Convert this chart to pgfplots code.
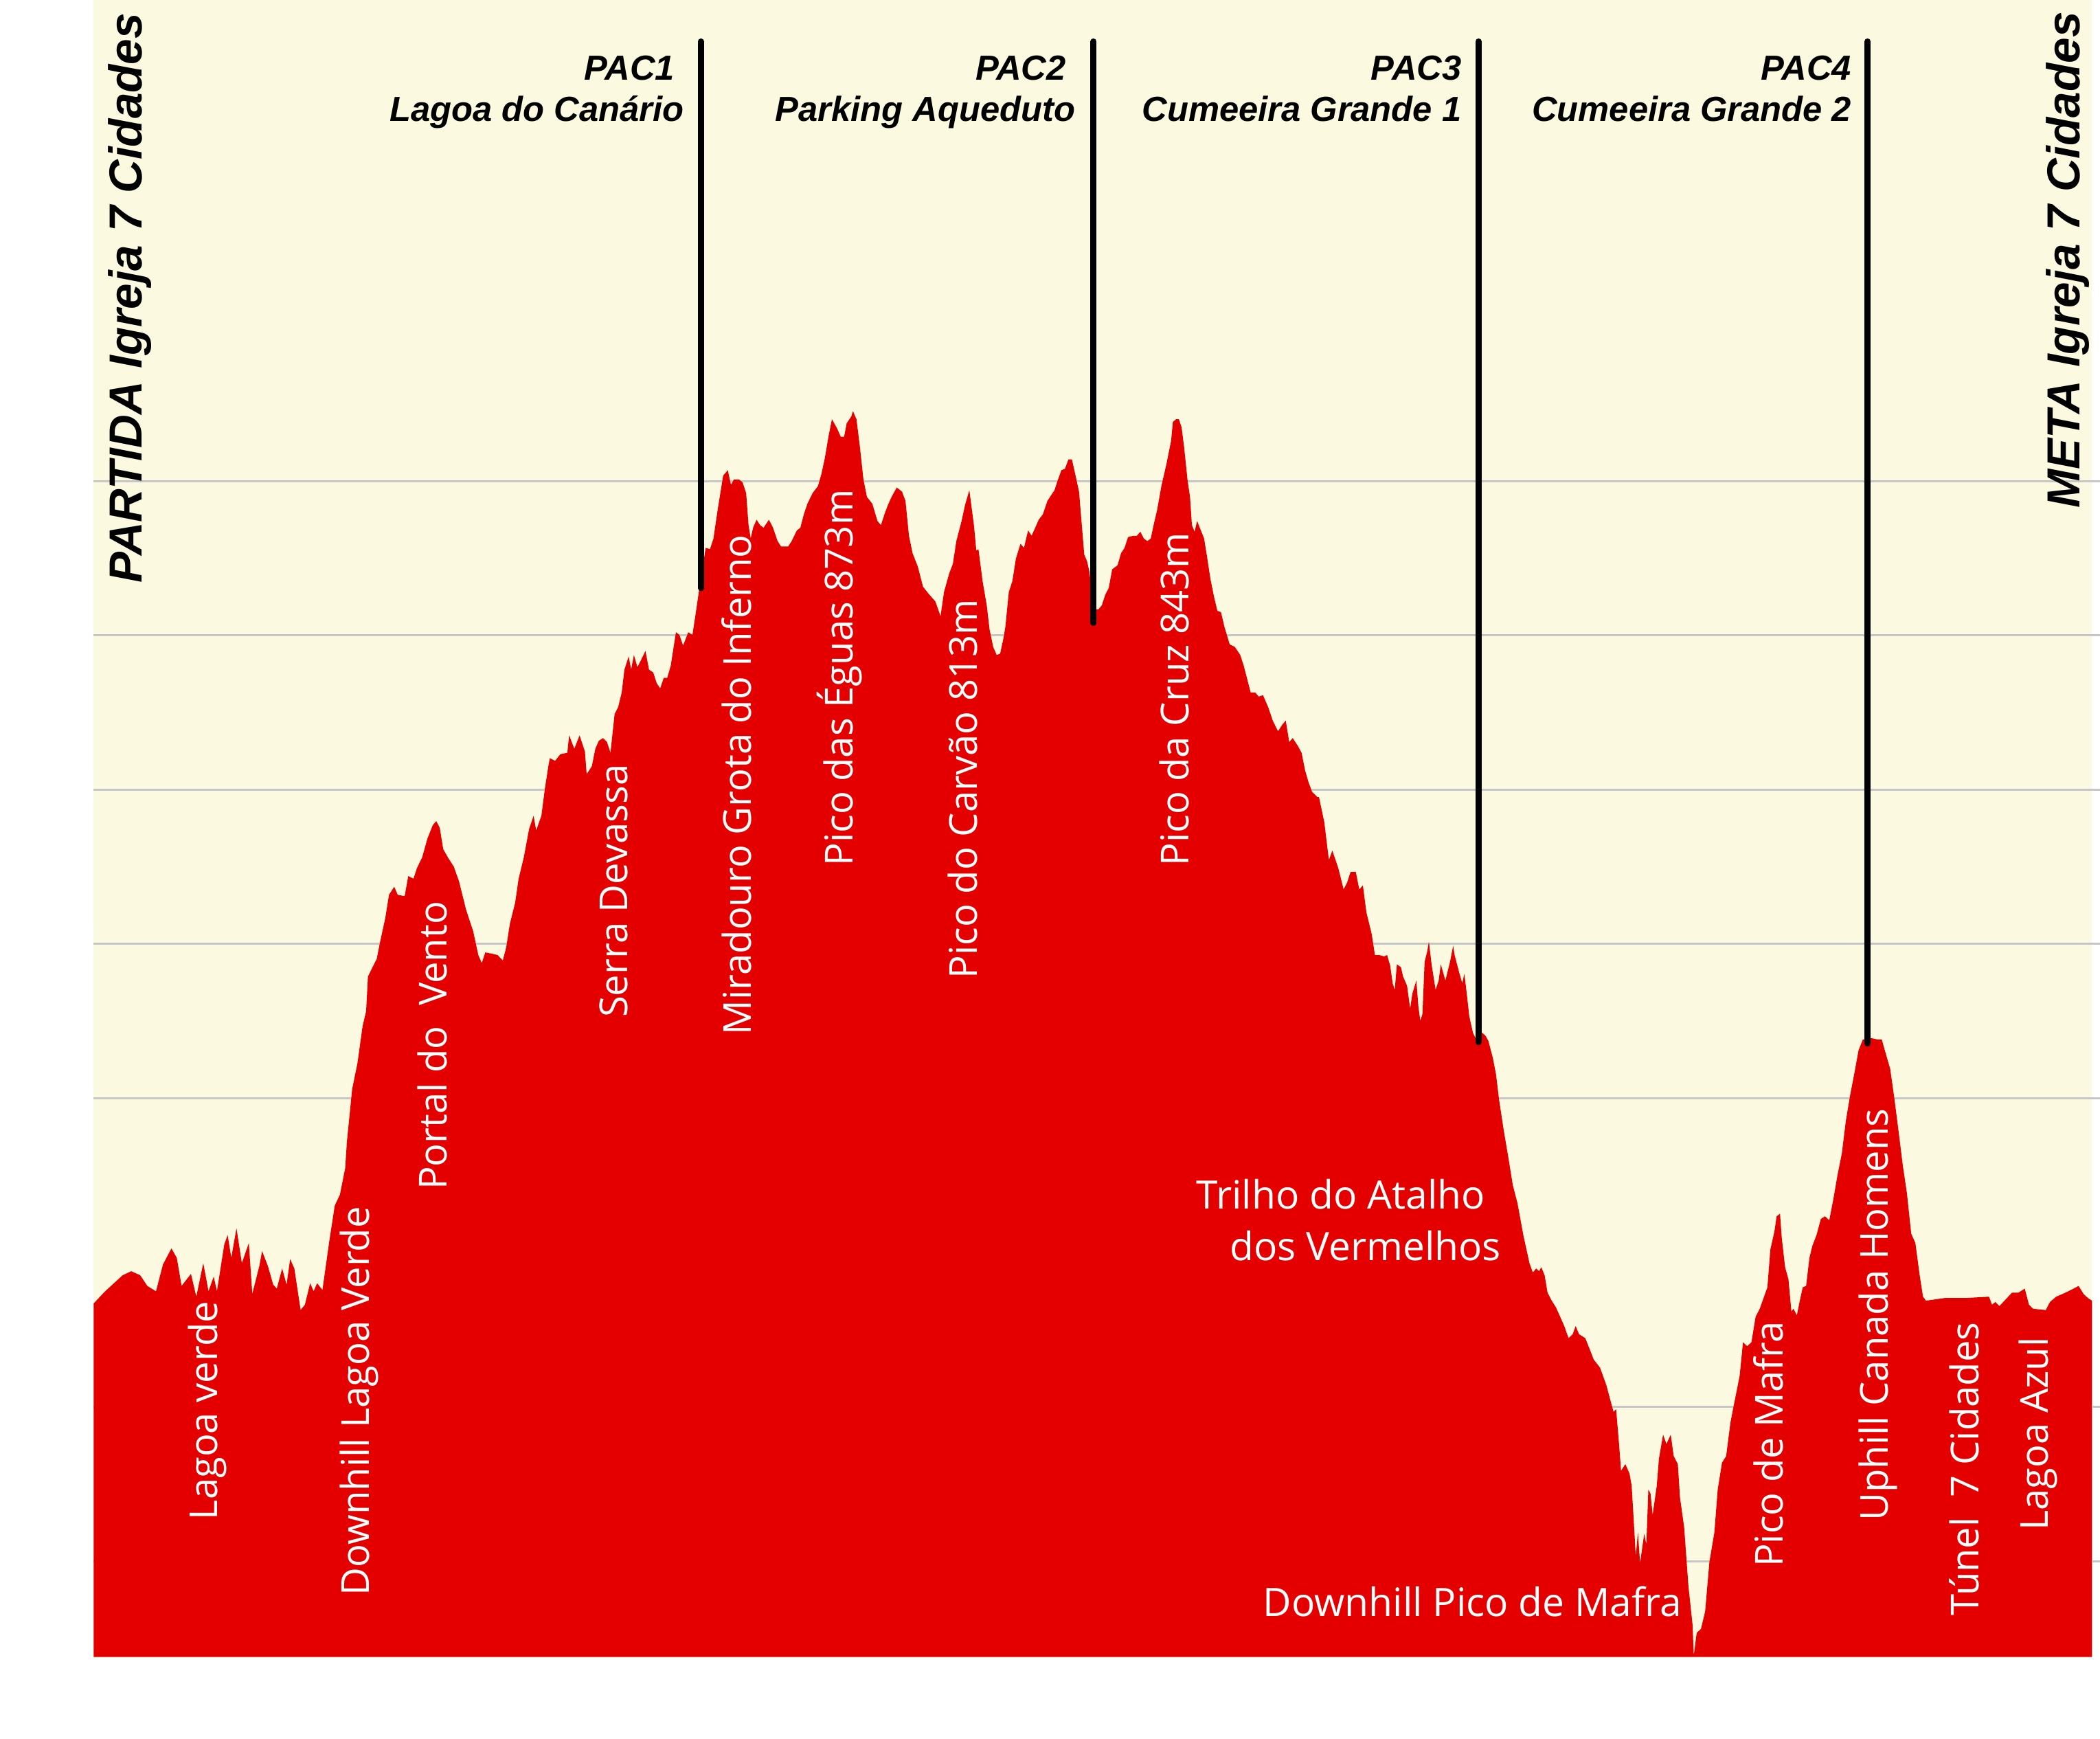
\documentclass[border=0pt]{standalone}
\usepackage{fontspec}
\setmainfont{Open Sans}
\newfontfamily\arialfont{Liberation Sans}
\usepackage{pgfplots}
\pgfplotsset{compat=1.18}
\definecolor{cream}{RGB}{251,249,223}
\definecolor{profred}{RGB}{229,0,0}
\definecolor{gridgray}{RGB}{198,198,198}
\tikzset{
  lbl/.style={white, rotate=90, anchor=base west, inner sep=0pt, font=\fontsize{14.4}{17}\selectfont},
  hlbl/.style={white, anchor=base west, inner sep=0pt, font=\fontsize{14.6}{17}\selectfont},
  pac/.style={anchor=base east, inner sep=0pt, font=\arialfont\bfseries\itshape\fontsize{13}{15}\selectfont},
  side/.style={rotate=90, anchor=base west, inner sep=0pt, font=\arialfont\bfseries\itshape\fontsize{17.3}{20}\selectfont},
  pacline/.style={line width=2.3pt, line cap=round, black},
}

\begin{document}
\begin{tikzpicture}
\useasboundingbox (-35pt,-30.5pt) rectangle (749pt,618.5pt);
\begin{axis}[
  width=746pt, height=618.5pt, scale only axis,
  xmin=0, xmax=1492.3, ymin=0, ymax=1237,
  axis line style={draw=none},
  xtick=\empty,
  ytick={71.5,186.7,417.1,532.3,647.5,762.7,877.9},
  yticklabels={}, major tick length=0pt,
  ymajorgrids, grid style={draw=gridgray, line width=0.75pt},
  axis background/.style={fill=cream},
  clip=false,
]
% elevation profile (distance, height)
\addplot[fill=profred, draw=none] coordinates {
(0,264) (8.5,273) (21.6,285) (28,288) (34.7,285) (40,277) (46.5,273) (51.7,293) (58,305) (62,298)
(65.6,277) (72.6,286) (76.6,269) (81.8,294) (85.7,273) (89.6,284) (92,273) (97.5,308) (100,315) (102.7,298)
(106.6,320) (110.6,294) (115.8,309) (118.4,271) (123.7,292) (125.7,303) (130,292) (134,278) (136.7,275) (140.7,290)
(144,278) (146.7,297) (149.8,290) (154.5,259) (157.7,263) (161.6,279) (164.2,273) (166.8,279) (170.8,274) (176,311)
(180,337) (183.8,345) (187.8,365) (189.1,385) (193,424) (196.9,443) (200.8,471) (203.4,482) (204.8,508) (208.7,516)
(211.3,521) (213.9,534) (217.8,552) (220.5,569) (224.4,575) (227,569) (232.2,568) (234.9,583) (238.8,581) (241.4,589)
(245.3,597) (249.2,611) (253.2,621) (255.8,624) (258.4,619) (261,603) (265,596) (268.9,590) (272.8,579) (278,558)
(283.3,542) (287.2,524) (289.8,518) (292.4,526) (297.6,525) (301.6,524) (305.5,520) (308.1,530) (310.7,547) (314.7,563)
(317.3,581) (321.2,597) (325.1,618) (328.5,628) (330.4,617) (334.3,628) (336.9,648) (339.5,665) (340.6,671) (344.5,669)
(348.5,674) (353.7,675) (355,688) (358.9,678) (362.8,688) (366.8,676) (368.1,659) (372,665) (374.6,678) (377.2,684)
(380.4,686) (383.3,683) (385.9,675) (389,704) (391.6,709) (394.3,720) (396.3,737) (399.5,747) (401.3,737) (403.4,748)
(406,739) (408.6,744) (412,751) (414.7,737) (417.8,735) (420.4,727) (423,723) (425.7,731) (428.3,731) (430.9,740)
(434.8,765) (437.4,763) (440.1,755) (444,765) (447.1,763) (449.7,780) (452.3,798) (457,828) (460.2,827) (462.8,835)
(466.2,858) (470.1,882) (473.5,886) (475.9,875) (478,879) (481.9,879) (484.5,877) (487.2,869) (489,845) (490.6,835)
(492.4,843) (495,849) (497.6,845) (500.2,843) (504.2,849) (507.3,843) (510.7,833) (513.3,829) (518.6,829) (521.2,833)
(525.1,841) (527.7,843) (530.3,853) (533,861) (536.9,869) (540.8,874) (543.4,883) (546,895) (548.7,911) (551.3,924)
(555.2,917) (557.8,911) (560.4,911) (562.3,921) (565.7,926) (567,930) (569.6,924) (572.2,903) (574.8,879) (577.4,866)
(581.4,861) (585.3,848) (587.9,845) (590.5,853) (593.1,860) (595.8,866) (599.7,873) (603.6,870) (606.2,863) (608.8,837)
(611.5,824) (615.4,814) (619.3,799) (623.2,794) (628.5,788) (632.4,777) (635,795) (638.9,809) (641.6,816) (644.2,833)
(648.1,848) (650.7,860) (653.9,871) (657.3,845) (659.1,826) (660.7,827) (663.8,803) (666.9,785) (669,767) (671.7,754)
(674.3,748) (676.9,749) (679.5,761) (680.8,769) (683.4,795) (686,803) (688.7,820) (692.1,831) (694.7,828) (697.8,841)
(700.4,837) (703.1,843) (705.7,849) (708.8,853) (712.2,863) (714.8,867) (717.5,871) (720.1,879) (722.7,886) (725.3,887)
(727.9,894) (730.5,894) (733.2,882) (735.8,870) (739.7,823) (741.8,818) (743.6,810) (746.8,782) (750.2,782) (752.8,785)
(755.4,793) (758,798) (760.6,812) (764.6,815) (767.2,824) (769.8,828) (772.4,836) (776.3,837) (779,837) (781.6,840)
(784.2,835) (786.8,833) (789.4,835) (791.5,845) (794.1,856) (797.3,874) (801.2,891) (804.6,908) (805.9,922) (808.3,924)
(810.4,924) (812.4,918) (814.3,903) (816.9,878) (818.7,866) (820.1,845) (822.1,840) (824,848) (826,843) (829.2,835)
(831.3,822) (833.9,805) (836.5,792) (839.1,781) (841.8,780) (844.4,769) (848.3,756) (852.2,754) (856.2,748) (858.8,740)
(861.4,730) (864,720) (867.4,720) (870,717) (873.2,718) (877.1,709) (880.5,699) (884.4,691) (887.6,696) (890.2,699)
(892.8,683) (895.4,686) (899.3,680) (902,675) (904.6,662) (907.2,653) (909.8,646) (913.7,642) (915,642) (919,623)
(922.4,595) (925,602) (929.4,589) (933.4,573) (936,578) (938.6,586) (942.5,586) (945.1,573) (947.8,576) (950.4,556)
(954.3,540) (956.8,524) (960.2,524) (963.6,523) (965.9,524) (968.2,516) (970,503) (971.6,498) (973.2,517) (976.2,515)
(977.8,508) (980.8,501) (983.1,484) (984.7,495) (987.7,505) (989.3,485) (990.7,475) (992.3,480) (993.9,519) (995.7,526)
(997.1,534) (999.1,517) (1002.1,498) (1004.4,505) (1006,517) (1009.4,505) (1012.9,519) (1015.2,531) (1016.3,524) (1019.7,511)
(1022,503) (1023.6,510) (1025.5,494) (1027.3,478) (1030,466) (1033.5,459) (1036.9,466) (1039.2,464) (1041.5,460) (1044.9,447)
(1047.2,435) (1049.5,416) (1053,393) (1056.4,373) (1059.8,352) (1063.2,339) (1067.8,314) (1070,304) (1072.2,294) (1074.7,287)
(1077.2,290) (1079.4,288) (1081,291) (1083.5,285) (1085.7,272) (1088.8,266) (1092,261) (1095.1,254) (1098.2,247) (1101.4,238)
(1104.5,241) (1106.7,247) (1109.2,241) (1113.9,238) (1117.1,230) (1120.2,222) (1124.9,216) (1129.6,203) (1132.8,191) (1135,183)
(1136.9,185) (1139.1,159) (1140.6,139) (1143.8,144) (1146.9,137) (1148.5,128) (1150,103) (1151.6,75) (1153.2,93) (1154.8,70)
(1157.9,92) (1159.5,84) (1161,125) (1162.6,122) (1164.2,106) (1167.3,128) (1168.9,148) (1172,166) (1174.5,159) (1177.7,166)
(1179.9,150) (1183,144) (1184.6,119) (1187.7,97) (1190.9,53) (1194,24) (1194.9,1) (1197.1,18) (1200.3,21) (1203.4,34)
(1206.6,71) (1210.3,93) (1212.8,125) (1216,145) (1219.1,150) (1222.3,175) (1225.4,191) (1229.2,210) (1231.7,235) (1234.8,232)
(1238,235) (1241.1,254) (1244.2,260) (1247.4,269) (1249.9,276) (1252.1,304) (1255.2,318) (1256.8,329) (1259.3,331) (1260.6,313)
(1263.1,291) (1265.6,282) (1267.8,258) (1269.4,260) (1271.9,255) (1274.1,266) (1276.3,276) (1278.8,277) (1281.3,298) (1283.5,307)
(1286.6,315) (1289.8,327) (1292.9,329) (1296.1,326) (1299.2,342) (1302.3,360) (1305.5,376) (1308.6,401) (1311.8,420) (1314.9,436)
(1318,453) (1321.2,461) (1323.4,461) (1327.5,462) (1332.2,461) (1335.3,461) (1338.4,450) (1341.6,439) (1344.7,417) (1347.9,392)
(1351,367) (1354.1,346) (1357.3,316) (1360.4,309) (1363.6,285) (1366.1,269) (1368.3,266) (1382.4,268) (1398.1,268) (1415.4,269)
(1417.6,263) (1420.1,265) (1423.2,262) (1427.9,267) (1432.6,272) (1437.4,272) (1442.1,275) (1445.2,263) (1448.3,260) (1457.8,259)
(1460.9,265) (1465.6,269) (1470.3,271) (1476.6,274) (1482.3,277) (1486,271) (1489.2,268) (1492.3,266)
} \closedcycle;

% grid lines run on a little past the right edge
\pgfplotsinvokeforeach{71.5,186.7,417.1,532.3,647.5,762.7,877.9}{
  \draw[gridgray, line width=0.75pt] (axis cs:1492.3,#1) -- (axis cs:1498.5,#1);
}

% checkpoints
\draw[pacline] (axis cs:453.4,1206) -- (axis cs:453.4,798);
\draw[pacline] (axis cs:746.7,1206) -- (axis cs:746.7,772);
\draw[pacline] (axis cs:1034.1,1206) -- (axis cs:1034.1,459);
\draw[pacline] (axis cs:1324.8,1206) -- (axis cs:1324.8,458);
\node[pac] at (axis cs:434.2,1177.2) {PAC1};
\node[pac] at (axis cs:441.1,1146.6) {Lagoa do Canário};
\node[pac] at (axis cs:726.4,1177.2) {PAC2};
\node[pac] at (axis cs:733.3,1146.6) {Parking Aqueduto};
\node[pac] at (axis cs:1021.8,1177.2) {PAC3};
\node[pac] at (axis cs:1021.8,1146.6) {Cumeeira Grande 1};
\node[pac] at (axis cs:1313,1177.2) {PAC4};
\node[pac] at (axis cs:1313,1146.6) {Cumeeira Grande 2};

% start / finish
\node[side] at (axis cs:36.1,801.2) {PARTIDA Igreja 7 Cidades};
\node[side] at (axis cs:1483.2,857.2) {META Igreja 7 Cidades};

% place names
\node[lbl] at (axis cs:92.3,102) {Lagoa verde};
\node[lbl] at (axis cs:205.6,45.6) {Downhill Lagoa Verde};
\node[lbl] at (axis cs:263.6,348.3) {Portal do\ \ Vento};
\node[lbl] at (axis cs:398.4,477) {Serra Devassa};
\node[lbl] at (axis cs:491.1,464) {Miradouro Grota do Inferno};
\node[lbl] at (axis cs:567,590) {Pico das Éguas 873m};
\node[lbl] at (axis cs:659.9,506) {Pico do Carvão 813m};
\node[lbl] at (axis cs:817.7,590) {Pico da Cruz 843m};
\node[lbl] at (axis cs:1261.5,66.7) {Pico de Mafra};
\node[lbl] at (axis cs:1340,101.3) {Uphill Canada Homens};
\node[lbl] at (axis cs:1407.5,30.6) {Túnel\ \ 7 Cidades};
\node[lbl] at (axis cs:1459.3,94) {Lagoa Azul};
\node[hlbl] at (axis cs:823,334.3) {Trilho do Atalho};
\node[hlbl] at (axis cs:848,296) {dos Vermelhos};
\node[hlbl] at (axis cs:873,30.6) {Downhill Pico de Mafra};
\end{axis}
\end{tikzpicture}
\end{document}
